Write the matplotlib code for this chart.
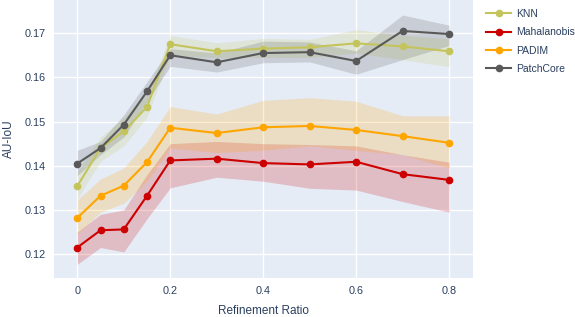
import numpy as np
import matplotlib
matplotlib.use("Agg")
import matplotlib.pyplot as plt

plt.rcParams['font.family'] = ['Liberation Sans', 'DejaVu Sans']

ratio = [0, 0.05, 0.1, 0.15, 0.2, 0.3, 0.4, 0.5, 0.6, 0.7, 0.8]

knn = [0.1354, 0.1440, 0.1478, 0.1533, 0.1675, 0.1659, 0.1665, 0.1668, 0.1677, 0.1670, 0.1659]
knn_lo = [0.1325, 0.1410, 0.1445, 0.1510, 0.1650, 0.1645, 0.1645, 0.1645, 0.1655, 0.1640, 0.1624]
knn_hi = [0.1385, 0.1465, 0.1510, 0.1560, 0.1695, 0.1678, 0.1688, 0.1686, 0.1708, 0.1695, 0.1688]

maha = [0.1215, 0.1254, 0.1256, 0.1332, 0.1412, 0.1416, 0.1406, 0.1403, 0.1409, 0.1381, 0.1368]
maha_lo = [0.1177, 0.1215, 0.1205, 0.1280, 0.1350, 0.1374, 0.1365, 0.1349, 0.1345, 0.1319, 0.1295]
maha_hi = [0.1250, 0.1290, 0.1300, 0.1380, 0.1450, 0.1455, 0.1450, 0.1448, 0.1445, 0.1425, 0.1408]

padim = [0.1282, 0.1332, 0.1355, 0.1408, 0.1486, 0.1474, 0.1487, 0.1490, 0.1481, 0.1467, 0.1452]
padim_lo = [0.1245, 0.1295, 0.1315, 0.1365, 0.1440, 0.1430, 0.1435, 0.1445, 0.1435, 0.1425, 0.1395]
padim_hi = [0.1323, 0.1370, 0.1395, 0.1455, 0.1534, 0.1517, 0.1548, 0.1554, 0.1546, 0.1513, 0.1513]

patch = [0.1405, 0.1440, 0.1493, 0.1568, 0.1650, 0.1634, 0.1655, 0.1657, 0.1637, 0.1705, 0.1698]
patch_lo = [0.1378, 0.1425, 0.1465, 0.1545, 0.1625, 0.1612, 0.1633, 0.1635, 0.1607, 0.1640, 0.1672]
patch_hi = [0.1435, 0.1455, 0.1515, 0.1590, 0.1665, 0.1655, 0.1682, 0.1680, 0.1660, 0.1741, 0.1718]

series = [
    ("KNN", knn, knn_lo, knn_hi, "#c4c45c"),
    ("Mahalanobis", maha, maha_lo, maha_hi, "#cc0000"),
    ("PADIM", padim, padim_lo, padim_hi, "#ffa500"),
    ("PatchCore", patch, patch_lo, patch_hi, "#595959"),
]

fig = plt.figure(figsize=(5.75, 3.17), dpi=100)
ax = fig.add_axes([0.094, 0.123, 0.729, 0.877])
ax.set_facecolor("#e5ecf6")

for name, y, lo, hi, c in series:
    ax.fill_between(ratio, lo, hi, color=c, alpha=0.2, linewidth=0)
for name, y, lo, hi, c in series:
    ax.plot(ratio, y, color=c, lw=1.5, marker="o", ms=4.5, label=name)

ax.set_xlim(-0.05, 0.852)
ax.set_ylim(0.1146, 0.1775)
ax.set_xticks([0, 0.2, 0.4, 0.6, 0.8])
ax.set_xticklabels(["0", "0.2", "0.4", "0.6", "0.8"])
ax.set_yticks([0.12, 0.13, 0.14, 0.15, 0.16, 0.17])
ax.grid(color="white", lw=1)
ax.set_axisbelow(True)
for s in ax.spines.values():
    s.set_visible(False)
ax.tick_params(length=0, labelsize=7.8, colors="#2a3f5f", pad=6)
ax.set_xlabel("Refinement Ratio", fontsize=8.5, color="#2a3f5f", labelpad=6)
ax.set_ylabel("AU-IoU", fontsize=8.5, color="#2a3f5f", labelpad=7)

leg = ax.legend(loc="upper left", bbox_to_anchor=(1.031, 0.968), frameon=False,
                fontsize=7.5, handlelength=2.4, handletextpad=0.5,
                labelspacing=0.8, borderaxespad=0, borderpad=0)
for t in leg.get_texts():
    t.set_color("#2a3f5f")

fig.savefig("out.png", dpi=100)
